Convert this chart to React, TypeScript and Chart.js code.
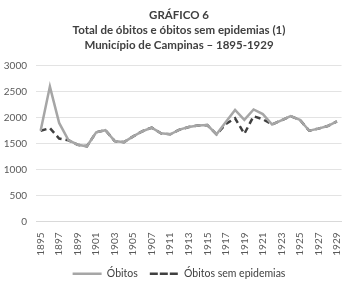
import { useEffect, useRef } from 'react';
import { Chart, registerables } from 'chart.js';

Chart.register(...registerables);

// Years on the category axis (1908 and 1910 are absent from the series)
const years = [
  '1895', '1896', '1897', '1898', '1899', '1900', '1901', '1902', '1903', '1904',
  '1905', '1906', '1907', '1909', '1911', '1912', '1913', '1914', '1915', '1916',
  '1917', '1918', '1919', '1920', '1921', '1922', '1923', '1924', '1925', '1926',
  '1927', '1928', '1929',
];

// Total deaths per year
const obitos = [
  1750, 2600, 1900, 1570, 1480, 1450, 1720, 1760, 1550, 1530,
  1640, 1740, 1810, 1700, 1680, 1770, 1820, 1850, 1860, 1680,
  1920, 2150, 1960, 2160, 2070, 1870, 1950, 2030, 1960, 1750,
  1790, 1840, 1930,
];

// Deaths excluding epidemics
const obitosSemEpidemias = [
  1750, 1800, 1600, 1565, 1480, 1450, 1720, 1760, 1550, 1530,
  1640, 1740, 1810, 1700, 1680, 1770, 1820, 1850, 1860, 1680,
  1880, 1990, 1690, 2030, 1970, 1870, 1950, 2030, 1960, 1750,
  1790, 1840, 1930,
];

const yMin = 0;
const yMax = 3000;
const yStep = 500;

const titleLines = [
  'GRÁFICO 6',
  'Total de óbitos e óbitos sem epidemias (1)',
  'Município de Campinas – 1895-1929',
];

const FONT = 'Lato, "Liberation Sans", Arial, sans-serif';

export default function App() {
  const canvasRef = useRef<HTMLCanvasElement | null>(null);

  useEffect(() => {
    document.body.style.margin = '0';
    const canvas = canvasRef.current;
    if (!canvas) return;

    const chart = new Chart(canvas, {
      type: 'line',
      data: {
        labels: years,
        datasets: [
          {
            label: 'Óbitos',
            data: obitos,
            borderColor: '#a6a6a6',
            backgroundColor: '#a6a6a6',
            borderWidth: 2.5,
            pointRadius: 0,
            tension: 0,
            fill: false,
          },
          {
            label: 'Óbitos sem epidemias',
            data: obitosSemEpidemias,
            borderColor: '#404040',
            backgroundColor: '#404040',
            borderWidth: 2.5,
            borderDash: [6, 4],
            pointRadius: 0,
            tension: 0,
            fill: false,
          },
        ],
      },
      options: {
        responsive: false,
        animation: false,
        layout: { padding: { left: 3, right: 5, top: 0, bottom: 0 } },
        plugins: {
          title: {
            display: true,
            text: titleLines,
            color: '#404040',
            font: { family: FONT, size: 11.5, weight: 'bold', lineHeight: 1.3 },
            padding: { top: 8, bottom: 13 },
          },
          legend: {
            display: true,
            position: 'bottom',
            labels: {
              boxWidth: 29,
              boxHeight: 0,
              padding: 12,
              color: '#404040',
              font: { family: FONT, size: 10.5 },
            },
          },
          tooltip: { enabled: false },
        },
        scales: {
          x: {
            offset: true,
            grid: { display: false, drawTicks: false },
            border: { display: true, color: '#d9d9d9', width: 1 },
            ticks: {
              autoSkip: false,
              minRotation: 90,
              maxRotation: 90,
              padding: 11,
              color: '#595959',
              font: { family: FONT, size: 10 },
              callback: (_v: any, i: number) => (i % 2 === 0 ? years[i] : ''),
            },
            afterFit: (scale: any) => {
              scale.height = 35;
            },
          },
          y: {
            min: yMin,
            max: yMax,
            grid: { color: '#e3e3e3', lineWidth: 1, drawTicks: false },
            border: { display: false },
            ticks: {
              stepSize: yStep,
              padding: 9,
              color: '#595959',
              font: { family: FONT, size: 10 },
              callback: (v: any) => String(v),
            },
            afterFit: (scale: any) => {
              scale.width = 33;
            },
          },
        },
      },
    });

    return () => chart.destroy();
  }, []);

  return <canvas ref={canvasRef} width={360} height={289} style={{ display: 'block' }} />;
}
